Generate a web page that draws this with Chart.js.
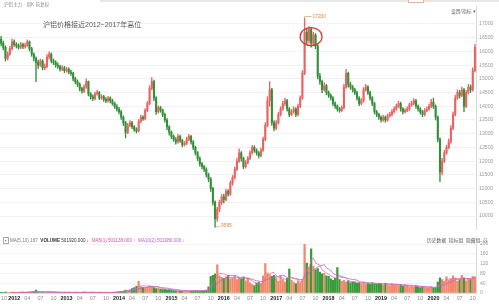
<!DOCTYPE html>
<html>
<head>
<meta charset="utf-8">
<script src="https://cdn.jsdelivr.net/npm/chart.js@4.4.1/dist/chart.umd.min.js"></script>
<style>
  body { margin: 0; background: #fff; font-family: "Liberation Sans", "Noto Sans CJK SC", sans-serif; }
  #wrap { position: relative; width: 499px; height: 304px; overflow: hidden; background: #fff; }
  #price { position: absolute; left: 0; top: 0; }
  #vol { position: absolute; left: 0; top: 236px; }
  .t { position: absolute; white-space: nowrap; line-height: 1; }
</style>
</head>
<body>
<div id="wrap">
  <div style="position:absolute;left:100px;top:0;width:399px;height:2px;background:#e6e6e6"></div>
  <div style="position:absolute;left:408px;top:0;width:14px;height:2px;border:1px solid #f2b58a;border-top:0;background:#fff"></div>
  <canvas id="price" width="499" height="236"></canvas>
  <canvas id="vol" width="499" height="68"></canvas>

  <div class="t" style="left:4px;top:3px;font-size:4.6px;color:#8c8c8c">沪铝主力 · 周K 前复权</div>
  <div class="t" style="left:43px;top:21px;font-size:7px;color:#5c5c5c">沪铝价格接近2012~2017年高位</div>
  <div class="t" style="left:451px;top:10px;font-size:4.8px;color:#666">设置/指标 ▾</div>

  <div class="t" style="left:3px;top:239px;font-size:4.6px;color:#777">
    <span style="border:0.5px solid #aaa;padding:0 1px">▪</span>
    <span>MA(5,10) 167</span>&nbsp;
    <b style="color:#333">VOLUME</b> <span style="color:#333">501920.000 ↓</span>&nbsp;
    <span style="color:#e04cb0">MA5(1) 501138.000 ↑</span>&nbsp;
    <span style="color:#b45fd0">MA10(2) 501080.000 ↓</span>
  </div>
  <div class="t" style="left:427px;top:239px;font-size:4.8px;color:#555">历史数据 &nbsp;指标组 &nbsp;隐藏组 &nbsp;⊖</div>
</div>

<script>
// 沪铝主力 半月K线 (2011-10 ~ 2020-10)
const startYear = 2011;
const startMonth = 10;

const open = [
  16450, 16300, 16150, 15750, 15900, 16100,
  16350, 16250, 16200, 16150, 16250, 16180, 16220, 16350, 16100, 15900, 15750, 15600, 15500, 15650, 15400, 15450, 15800, 15900, 15650, 15600, 15500, 15450, 15350, 15400,
  15300, 15350, 15250, 15200, 15000, 14900, 14800, 14650, 14550, 14700, 14900, 14450, 14350, 14280, 14450, 14500, 14300, 14350, 14250, 14200, 14300, 14200, 14100, 14000,
  13900, 13800, 13600, 13400, 13050, 13300, 13400, 13250, 13150, 13100, 13450, 13600, 13550, 13850, 14100, 14650, 14900, 14300, 13800, 13950, 13850, 13700, 13500, 13250,
  13050, 12900, 12800, 12700, 12900, 12750, 12600, 12650, 12800, 12900, 12700, 12500, 12300, 12100, 11900, 11800, 11700, 11500, 11350, 11000, 10500, 9900, 10250, 10500,
  10700, 10600, 10900, 10800, 11200, 11400, 11700, 12000, 12300, 12100, 11800, 11950, 12100, 12300, 12500, 12400, 12300, 12200, 12400, 12800, 13300, 14200, 14600, 13400,
  13200, 13400, 13700, 13900, 14100, 14200, 13900, 13700, 13800, 13900, 13700, 14000, 14300, 15200, 16700, 16400, 16800, 16300, 16600, 16200, 15100, 14900, 14600, 14750,
  14500, 14400, 14300, 14100, 14000, 13900, 13850, 13950, 14700, 15200, 14800, 14700, 14600, 14500, 14300, 14100, 14200, 14600, 14700, 14500, 14300, 14100, 13800, 13700,
  13600, 13500, 13600, 13500, 13650, 13700, 13800, 13900, 14000, 14100, 13900, 13800, 13850, 13900, 14050, 14100, 14200, 14000, 13900, 13800, 13700, 13850, 13900, 14000,
  14150, 14000, 13600, 12800, 11600, 12000, 12300, 12500, 12700, 13200, 13700, 14300, 14500, 14400, 14600, 14000, 14500, 14700, 14600, 15300
];
const close = [
  16300, 16150, 15750, 15900, 16100, 16350,
  16250, 16200, 16150, 16250, 16180, 16220, 16350, 16100, 15900, 15750, 15600, 15500, 15650, 15400, 15450, 15800, 15900, 15650, 15600, 15500, 15450, 15350, 15400, 15300,
  15350, 15250, 15200, 15000, 14900, 14800, 14650, 14550, 14700, 14900, 14450, 14350, 14280, 14450, 14500, 14300, 14350, 14250, 14200, 14300, 14200, 14100, 14000, 13900,
  13800, 13600, 13400, 13050, 13300, 13400, 13250, 13150, 13100, 13450, 13600, 13550, 13850, 14100, 14650, 14900, 14300, 13800, 13950, 13850, 13700, 13500, 13250, 13050,
  12900, 12800, 12700, 12900, 12750, 12600, 12650, 12800, 12900, 12700, 12500, 12300, 12100, 11900, 11800, 11700, 11500, 11350, 11000, 10500, 9900, 10250, 10500, 10700,
  10600, 10900, 10800, 11200, 11400, 11700, 12000, 12300, 12100, 11800, 11950, 12100, 12300, 12500, 12400, 12300, 12200, 12400, 12800, 13300, 14200, 14600, 13400, 13200,
  13400, 13700, 13900, 14100, 14200, 13900, 13700, 13800, 13900, 13700, 14000, 14300, 15200, 16700, 16400, 16800, 16300, 16600, 16200, 15100, 14900, 14600, 14750, 14500,
  14400, 14300, 14100, 14000, 13900, 13850, 13950, 14700, 15200, 14800, 14700, 14600, 14500, 14300, 14100, 14200, 14600, 14700, 14500, 14300, 14100, 13800, 13700, 13600,
  13500, 13600, 13500, 13650, 13700, 13800, 13900, 14000, 14100, 13900, 13800, 13850, 13900, 14050, 14100, 14200, 14000, 13900, 13800, 13700, 13850, 13900, 14000, 14150,
  14000, 13600, 12800, 11600, 12000, 12300, 12500, 12700, 13200, 13700, 14300, 14500, 14400, 14600, 14000, 14500, 14700, 14600, 15300, 16150
];
const high = [
  16550, 16380, 16200, 15980, 16180, 16450,
  16420, 16320, 16280, 16330, 16300, 16300, 16420, 16380, 16150, 15950, 15800, 15680, 15720, 15700, 15550, 15880, 15980, 15950, 15720, 15660, 15580, 15500, 15480, 15460,
  15420, 15400, 15320, 15250, 15060, 14960, 14850, 14700, 14780, 15000, 14920, 14500, 14420, 14520, 14580, 14540, 14420, 14400, 14320, 14360, 14340, 14260, 14150, 14060,
  13960, 13850, 13650, 13450, 13380, 13480, 13450, 13300, 13220, 13520, 13680, 13660, 13920, 14180, 14750, 15050, 14950, 14350, 14020, 14000, 13900, 13750, 13550, 13300,
  13100, 12960, 12860, 12980, 12950, 12800, 12720, 12880, 12980, 12940, 12750, 12550, 12350, 12160, 11960, 11850, 11760, 11560, 11400, 11050, 10550, 10320, 10580, 10780,
  10800, 10980, 10960, 11280, 11480, 11780, 12100, 12450, 12350, 12150, 12020, 12180, 12380, 12580, 12560, 12450, 12350, 12480, 12880, 13400, 14350, 14900, 14650, 13480,
  13480, 13780, 13980, 14180, 14300, 14250, 13950, 13880, 13980, 13950, 14080, 14380, 15300, 17200, 16850, 16900, 16850, 16700, 16650, 16250, 15200, 14950, 14850, 14800,
  14560, 14450, 14350, 14160, 14050, 13960, 14020, 14800, 15350, 15250, 14880, 14760, 14650, 14550, 14350, 14280, 14680, 14800, 14750, 14550, 14350, 14150, 13850, 13750,
  13650, 13680, 13650, 13720, 13780, 13880, 13980, 14080, 14180, 14150, 13950, 13920, 13980, 14120, 14180, 14280, 14250, 14050, 13950, 13850, 13920, 13980, 14080, 14250,
  14300, 14050, 13650, 12850, 12100, 12400, 12580, 12800, 13300, 13800, 14400, 14600, 14580, 14700, 14650, 14580, 14800, 14780, 15400, 16250
];
const low = [
  16200, 16050, 15650, 15680, 15850, 16050,
  16180, 16120, 16080, 16100, 16100, 16120, 16180, 16020, 15820, 15650, 14900, 15380, 15450, 15320, 15330, 15400, 15720, 15580, 15520, 15420, 15380, 15280, 15300, 15220,
  15240, 15180, 15120, 14920, 14820, 14720, 14560, 14480, 14500, 14650, 14380, 14260, 14200, 14230, 14400, 14240, 14250, 14180, 14130, 14150, 14120, 14040, 13920, 13820,
  13720, 13520, 13300, 12850, 13000, 13250, 13180, 13080, 13030, 13060, 13400, 13480, 13500, 13800, 14050, 14600, 14200, 13700, 13750, 13780, 13620, 13420, 13150, 12950,
  12820, 12720, 12620, 12650, 12680, 12520, 12550, 12600, 12750, 12620, 12420, 12220, 12020, 11820, 11720, 11620, 11420, 11250, 10900, 10400, 9595, 9800, 10150, 10420,
  10480, 10550, 10720, 10750, 11120, 11350, 11650, 11950, 12000, 11720, 11750, 11900, 12050, 12250, 12320, 12220, 12120, 12150, 12350, 12750, 13250, 14000, 13300, 13100,
  13150, 13350, 13650, 13850, 14020, 13820, 13620, 13650, 13750, 13620, 13650, 13950, 14250, 15150, 16250, 16300, 16150, 16200, 16100, 15000, 14800, 14500, 14550, 14420,
  14320, 14220, 14020, 13920, 13820, 13780, 13800, 13900, 14650, 14700, 14620, 14520, 14420, 14220, 14020, 14050, 14150, 14550, 14420, 14220, 14020, 13720, 13620, 13520,
  13420, 13450, 13420, 13450, 13600, 13650, 13750, 13850, 13950, 13820, 13720, 13750, 13800, 13850, 14000, 14050, 13920, 13820, 13720, 13620, 13650, 13800, 13850, 13950,
  13920, 13500, 12700, 11250, 11500, 11950, 12250, 12450, 12650, 13150, 13650, 14250, 14300, 14350, 13800, 13950, 14450, 14500, 14550, 15250
];
const volume = [
  3, 2, 4, 3, 2, 3,
  3, 2, 3, 4, 3, 2, 3, 4, 5, 6, 12, 5, 4, 3, 3, 4, 5, 3, 2, 3, 2, 3, 2, 3,
  2, 3, 2, 2, 3, 3, 2, 3, 4, 3, 2, 2, 3, 2, 2, 3, 2, 2, 3, 2, 2, 3, 3, 4,
  5, 6, 8, 12, 10, 14, 18, 22, 28, 48, 26, 22, 20, 24, 30, 28, 22, 18, 20, 16, 14, 15, 12, 14,
  12, 10, 9, 8, 8, 7, 8, 9, 8, 8, 9, 10, 9, 8, 10, 10, 12, 25, 68, 72, 78, 115, 70, 64,
  60, 66, 72, 58, 62, 70, 55, 64, 58, 66, 50, 60, 42, 35, 30, 40, 44, 38, 70, 120, 82, 75, 68, 72,
  62, 48, 70, 55, 45, 60, 98, 52, 44, 38, 50, 42, 55, 200, 122, 105, 180, 110, 95, 100, 85, 78, 80, 70,
  68, 58, 52, 60, 104, 55, 48, 52, 45, 50, 42, 46, 44, 40, 42, 38, 44, 36, 40, 35, 42, 38, 36, 40,
  36, 32, 40, 34, 30, 38, 33, 36, 30, 34, 28, 32, 30, 26, 28, 24, 30, 25, 22, 26, 24, 20, 22, 25,
  20, 22, 45, 62, 55, 48, 66, 52, 58, 70, 60, 48, 55, 72, 62, 50, 58, 55, 68, 66
];

const priceTicks = [17000, 16500, 16000, 15500, 15000, 14500, 14000, 13500, 13000, 12500, 12000, 11500, 11000, 10500, 10000];
const quarterMonths = ['04', '07', '10'];

// 半月标签：2011-10a, 2011-10b, ...
const periods = close.map((_, i) => {
  const m = startMonth - 1 + Math.floor(i / 2);
  const y = startYear + Math.floor(m / 12);
  return y + '-' + String(m % 12 + 1).padStart(2, '0') + (i % 2 ? 'b' : 'a');
});

function tickLabel(i) {
  const p = periods[i];
  if (p.endsWith('b')) return '';
  const mm = p.slice(5, 7);
  if (mm === '01') return p.slice(0, 4);
  return quarterMonths.includes(mm) ? mm : '';
}

const upColor = '#ec6262', downColor = '#33903a';
const volUp = '#f2886c', volDown = '#3a9a3c';
const isUp = i => close[i] >= open[i];

function movingAvg(arr, n) {
  return arr.map((_, i) => i < n - 1 ? null : arr.slice(i - n + 1, i + 1).reduce((a, b) => a + b, 0) / n);
}

Chart.defaults.font.family = '"Liberation Sans", "Noto Sans CJK SC", sans-serif';

// 最高/最低标注 + 红圈
const markPlugin = {
  id: 'marks',
  afterDatasetsDraw(chart) {
    const { ctx, scales: { x, y } } = chart;
    let hi = 0, lo = 0;
    high.forEach((v, i) => { if (v > high[hi]) hi = i; });
    low.forEach((v, i) => { if (v < low[lo]) lo = i; });
    ctx.save();
    ctx.font = '4.8px "Liberation Sans"';
    ctx.textBaseline = 'middle';
    ctx.strokeStyle = '#e8843c';
    ctx.fillStyle = '#e8843c';
    ctx.lineWidth = 0.6;

    let px = x.getPixelForValue(hi), py = y.getPixelForValue(high[hi]);
    ctx.beginPath();
    ctx.moveTo(px, py); ctx.lineTo(px, py - 2); ctx.lineTo(px + 7, py - 2);
    ctx.stroke();
    ctx.fillText(String(high[hi]), px + 8, py - 2);

    px = x.getPixelForValue(lo); py = y.getPixelForValue(low[lo]);
    ctx.beginPath();
    ctx.moveTo(px, py); ctx.lineTo(px + 5, py - 1);
    ctx.stroke();
    ctx.fillText(String(low[lo]), px + 6, py - 1);

    // 2017年高位区域：最高点前后连续收盘在16000以上的K线
    let a = hi, b = hi;
    while (a > 0 && close[a - 1] > 16000) a--;
    while (b < close.length - 1 && close[b + 1] > 16000) b++;
    const x0 = x.getPixelForValue(a), x1 = x.getPixelForValue(b);
    let sum = 0;
    for (let i = a; i <= b; i++) sum += close[i];
    const cy = y.getPixelForValue(sum / (b - a + 1)) - 1;
    ctx.beginPath();
    ctx.ellipse((x0 + x1) / 2 + 1, cy, (x1 - x0) / 2 + 5.5, 9, 0, 0, Math.PI * 2);
    ctx.strokeStyle = '#d5383a';
    ctx.lineWidth = 1.2;
    ctx.stroke();
    ctx.restore();
  }
};

// 时间轴标签（年份加粗）
const dateAxisPlugin = {
  id: 'dateAxis',
  afterDraw(chart) {
    const { ctx, chartArea, scales: { x } } = chart;
    ctx.save();
    ctx.textAlign = 'center';
    ctx.textBaseline = 'top';
    periods.forEach((p, i) => {
      const txt = tickLabel(i);
      if (!txt) return;
      const isYear = txt.length === 4;
      ctx.font = (isYear ? 'bold ' : '') + '5.4px "Liberation Sans"';
      ctx.fillStyle = isYear ? '#222' : '#8c8c8c';
      ctx.fillText(txt, Math.max(x.getPixelForValue(i), 4), chartArea.bottom + 3);
    });
    ctx.restore();
  }
};

new Chart(document.getElementById('price'), {
  type: 'bar',
  data: {
    labels: periods,
    datasets: [
      {
        data: periods.map((_, i) => [low[i], high[i]]),
        grouped: false,
        barThickness: 0.7,
        backgroundColor: c => isUp(c.dataIndex) ? upColor : downColor
      },
      {
        data: periods.map((_, i) => [open[i], close[i]]),
        grouped: false,
        barThickness: 1.4,
        backgroundColor: c => isUp(c.dataIndex) ? upColor : downColor
      }
    ]
  },
  options: {
    responsive: false,
    animation: false,
    layout: { padding: { top: 6, bottom: 4 } },
    plugins: { legend: { display: false }, tooltip: { enabled: false } },
    scales: {
      x: { display: false },
      y: {
        position: 'right',
        min: 9495,
        max: 17650,
        afterBuildTicks: s => { s.ticks = priceTicks.map(v => ({ value: v })); },
        afterFit: s => { s.width = 23; },
        ticks: { color: '#9c9c9c', font: { size: 5.2 }, padding: 3, callback: v => String(v) },
        grid: { color: '#efefef', lineWidth: 0.8, drawTicks: false },
        border: { color: '#d9d9d9' }
      }
    }
  },
  plugins: [markPlugin]
});

new Chart(document.getElementById('vol'), {
  type: 'bar',
  data: {
    labels: periods,
    datasets: [
      { type: 'line', data: movingAvg(volume, 5), borderColor: '#f06ab4', borderWidth: 0.8, pointRadius: 0, order: 1 },
      { type: 'line', data: movingAvg(volume, 10), borderColor: '#a66ad6', borderWidth: 0.8, pointRadius: 0, order: 1 },
      {
        data: volume,
        barThickness: 1.6,
        order: 2,
        backgroundColor: c => isUp(c.dataIndex) ? volUp : volDown
      }
    ]
  },
  options: {
    responsive: false,
    animation: false,
    layout: { padding: { top: 8, bottom: 11 } },
    plugins: { legend: { display: false }, tooltip: { enabled: false } },
    scales: {
      x: {
        grid: { display: false, drawTicks: false },
        border: { color: '#dcdcdc' },
        ticks: { display: false }
      },
      y: {
        position: 'right',
        min: 0,
        max: 200,
        afterFit: s => { s.width = 23; },
        ticks: { stepSize: 40, color: '#9c9c9c', font: { size: 5 }, padding: 4 },
        grid: { color: '#f3f3f3', drawTicks: false },
        border: { color: '#d9d9d9' }
      }
    }
  },
  plugins: [dateAxisPlugin]
});
</script>
</body>
</html>
